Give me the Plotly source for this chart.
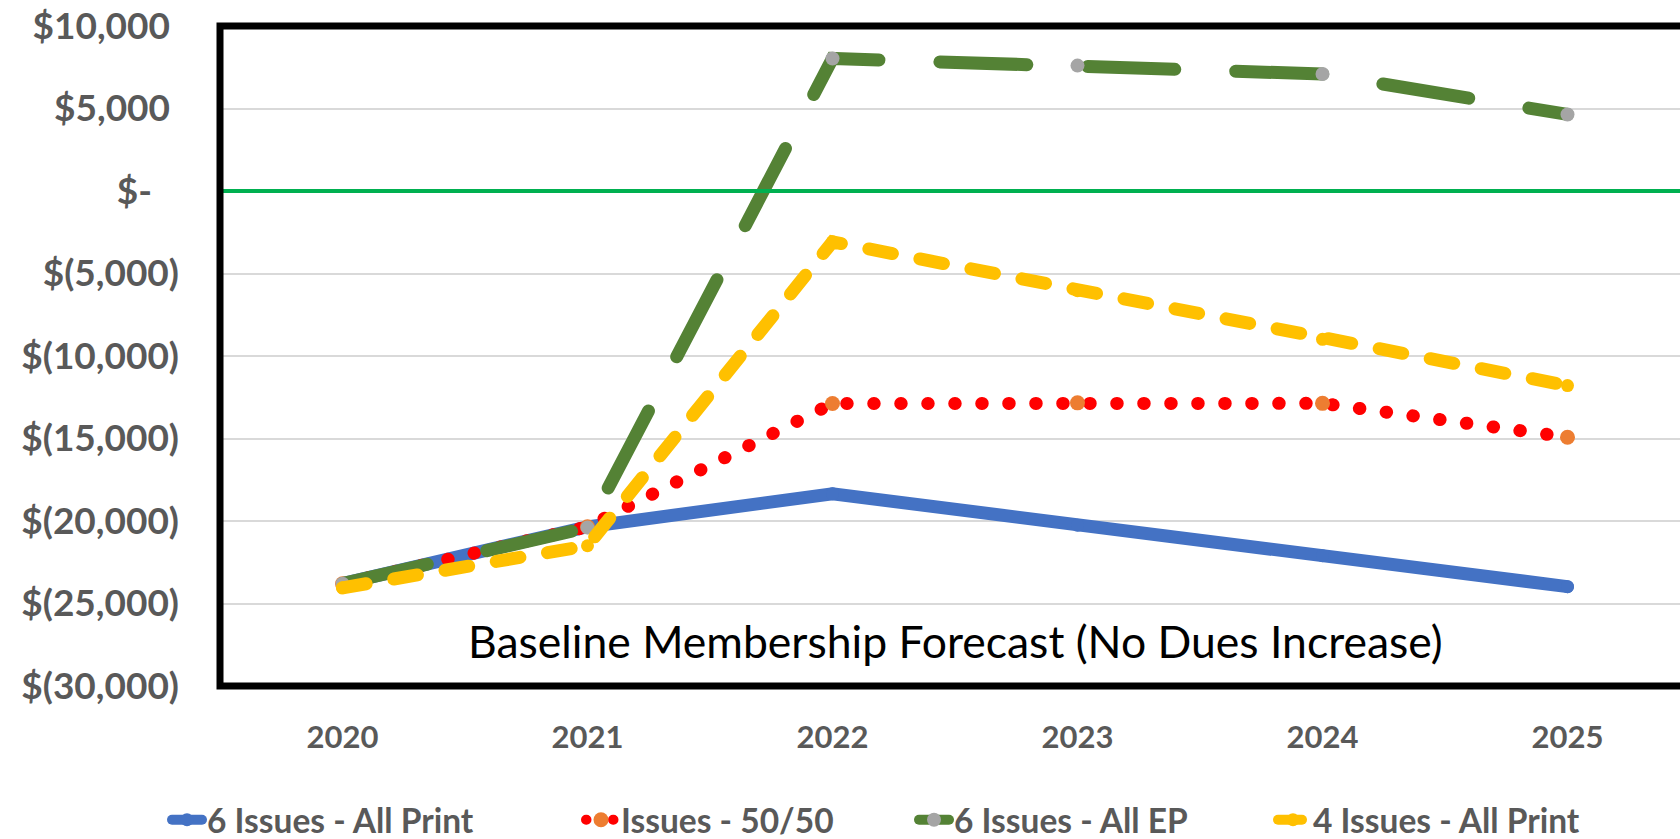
import plotly.graph_objects as go

years = [2020, 2021, 2022, 2023, 2024, 2025]
print6 = [-23800, -20350, -18350, -20250, -22100, -23980]
mix5050 = [-23800, -20350, -12880, -12840, -12870, -14920]
ep6 = [-23800, -20400, 8030, 7600, 7090, 4640]
print4 = [-24050, -21500, -3080, -6040, -8990, -11790]

names = ["6 Issues - All Print", "Issues - 50/50", "6 Issues - All EP", "4 Issues - All Print"]
ytickvals = [10000, 5000, 0, -5000, -10000, -15000, -20000, -25000, -30000]
yticktext = ["$10,000\u00a0", "$5,000\u00a0", "$-\u00a0\u00a0\u00a0", "$(5,000)", "$(10,000)",
             "$(15,000)", "$(20,000)", "$(25,000)", "$(30,000)"]
annotation_text = "Baseline Membership Forecast (No Dues Increase)"

GRAY = "#595959"
fig = go.Figure()

fig.add_trace(go.Scatter(x=years, y=print6, name=names[0], mode="lines+markers",
                         line=dict(color="#4472C4", width=13),
                         marker=dict(color="#4472C4", size=13), legend="legend"))
fig.add_trace(go.Scatter(x=years, y=mix5050, name=names[1], mode="lines+markers",
                         line=dict(color="#FF0000", width=13, dash="0.5px,26.5px"),
                         marker=dict(color="#ED7D31", size=15), legend="legend2"))
fig.add_trace(go.Scatter(x=years, y=ep6, name=names[2], mode="lines+markers",
                         line=dict(color="#548235", width=13, dash="87px,61px"),
                         marker=dict(color="#A5A5A5", size=14), legend="legend3"))
fig.add_trace(go.Scatter(x=years, y=print4, name=names[3], mode="lines+markers",
                         line=dict(color="#FFC000", width=13, dash="24px,28px"),
                         marker=dict(color="#FFC000", size=13), legend="legend4"))

# body margin is removed in the page, so figure coordinates equal page coordinates
W, H = 1680, 839
L, R, T, B = 220, 0, 26, 153
pw = W - L - R
ph = H - T - B
step = 245.0
xr = [2019.5, 2019.5 + pw / step]
bottom = T + ph

def px2paper(px):
    return (px - L) / pw

def py2paper(py):
    return (bottom - py) / ph

legfont = dict(family="Lato", size=33.5, color=GRAY, weight="bold")
leg_common = dict(orientation="h", yanchor="middle", y=py2paper(820), xanchor="left",
                  bgcolor="rgba(0,0,0,0)", font=legfont, borderwidth=0)
text_starts = [207, 621, 954, 1313]
legs = {}
for i, key in enumerate(["legend", "legend2", "legend3", "legend4"]):
    legs[key] = dict(leg_common, x=px2paper(text_starts[i] - 40))

fig.update_layout(
    width=W, height=H,
    margin=dict(l=L, r=R, t=T, b=B, autoexpand=False),
    paper_bgcolor="white", plot_bgcolor="white",
    showlegend=True,
    hovermode=False,
    xaxis=dict(range=xr, tickvals=years, ticktext=[str(y) for y in years],
               showgrid=False, zeroline=False, showline=False, ticks="",
               tickfont=dict(family="Lato", size=31, color=GRAY, weight="bold"),
               ticklabelstandoff=30, ticklabeloverflow="allow"),
    yaxis=dict(range=[-30000, 10000], tickvals=ytickvals, ticktext=yticktext,
               showgrid=True, gridcolor="#D9D9D9", gridwidth=2, zeroline=False,
               showline=False, ticks="",
               tickfont=dict(family="Lato", size=37, color=GRAY, weight="bold"),
               ticklabelstandoff=40, ticklabeloverflow="allow"),
    shapes=[
        dict(type="line", xref="paper", yref="y", x0=0, x1=1.0, y0=0, y1=0,
             line=dict(color="#00B050", width=4), layer="above"),
        dict(type="rect", xref="paper", yref="paper", x0=0, x1=1.05, y0=0, y1=1,
             line=dict(color="black", width=7), layer="above"),
    ],
    annotations=[dict(text=annotation_text, xref="paper", yref="paper",
                      x=px2paper(955), y=py2paper(640), xanchor="center", yanchor="middle",
                      showarrow=False, font=dict(family="Lato", size=44.5, color="black"))],
    **legs,
)

post = """
document.documentElement.style.margin = '0';
document.body.style.margin = '0';
document.body.style.overflow = 'hidden';
var gd = document.getElementById('{plot_id}');
function rc(){
  gd.querySelectorAll('.scatterlayer path.js-line, .legendlines path').forEach(function(p){
    p.style.strokeLinecap = 'round';
  });
}
rc();
if (gd.on) { gd.on('plotly_afterplot', rc); }
setTimeout(rc, 50); setTimeout(rc, 300);
"""

fig.write_html("out.html", post_script=post, config={"displayModeBar": False})
